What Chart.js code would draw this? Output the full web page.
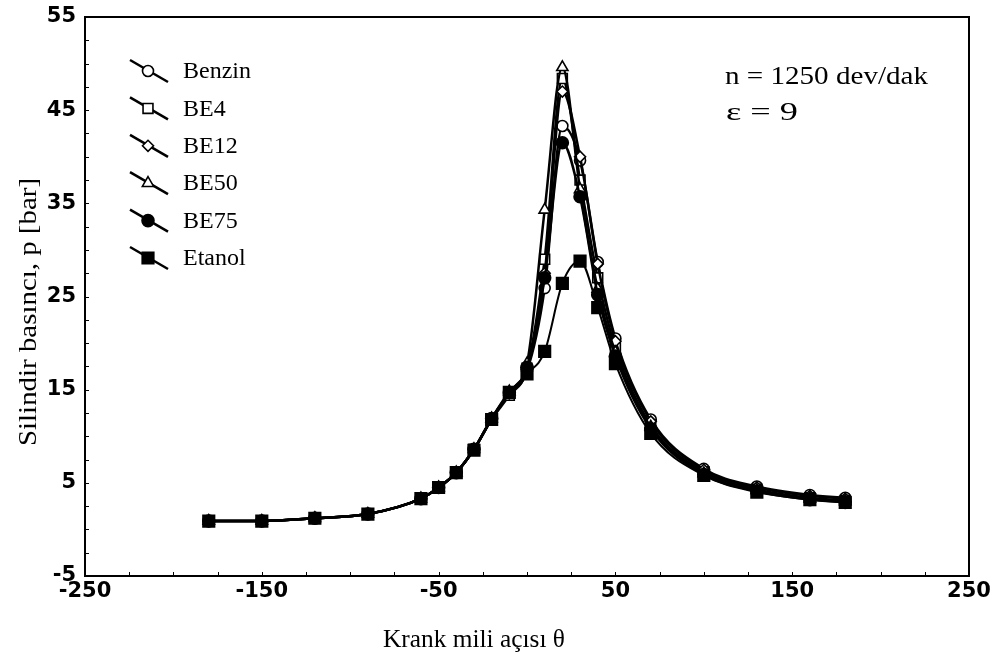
<!DOCTYPE html>
<html>
<head>
<meta charset="utf-8">
<script src="https://cdn.jsdelivr.net/npm/chart.js@4.4.1/dist/chart.umd.min.js"></script>
<style>
html,body{margin:0;padding:0;background:#fff;}
#wrap{width:995px;height:664px;position:relative;}
</style>
</head>
<body>
<div id="wrap"><canvas id="chart" width="995" height="664"></canvas></div>
<script>
// crank angle (deg)
var angles = [-180, -150, -120, -90, -60, -50, -40, -30, -20, -10, 0, 10, 20, 30, 40, 50, 70, 100, 130, 160, 180];

// cylinder pressure (bar)
var benzin = [0.9, 0.9, 1.2, 1.65, 3.3, 4.5, 6.1, 8.6, 11.9, 14.6, 17.0, 25.9, 43.3, 39.6, 28.7, 20.5, 11.8, 6.5, 4.6, 3.7, 3.4];
var be4    = [0.9, 0.9, 1.2, 1.65, 3.3, 4.5, 6.1, 8.6, 11.8, 14.4, 17.3, 29.0, 48.4, 37.5, 27.0, 19.5, 11.2, 6.2, 4.3, 3.4, 3.1];
var be12   = [0.9, 0.9, 1.2, 1.65, 3.3, 4.5, 6.1, 8.6, 11.9, 14.6, 17.2, 27.5, 47.0, 40.0, 28.5, 20.2, 11.6, 6.4, 4.5, 3.6, 3.3];
var be50   = [0.9, 0.9, 1.2, 1.65, 3.3, 4.5, 6.1, 8.6, 11.9, 14.8, 17.8, 34.3, 49.6, 36.5, 25.8, 19.0, 11.0, 6.0, 4.2, 3.3, 3.0];
var be75   = [0.9, 0.9, 1.2, 1.65, 3.3, 4.5, 6.1, 8.6, 11.9, 14.7, 17.4, 27.0, 41.5, 35.7, 25.2, 18.6, 10.8, 5.9, 4.1, 3.2, 2.9];
var etanol = [0.9, 0.9, 1.2, 1.65, 3.3, 4.5, 6.1, 8.5, 11.8, 14.7, 16.7, 19.1, 26.4, 28.8, 23.8, 17.8, 10.3, 5.8, 4.0, 3.2, 2.9];

var seriesNames = ['Benzin', 'BE4', 'BE12', 'BE50', 'BE75', 'Etanol'];
var xTickValues = [-250, -150, -50, 50, 150, 250];
var yTickValues = [-5, 5, 15, 25, 35, 45, 55];
var xTitle = 'Krank mili açısı θ';
var yTitle = 'Silindir basıncı, p [bar]';
var notes = ['n = 1250 dev/dak', 'ε = 9'];

function pts(ys){
    return ys.map(function(y, i){ return {x: angles[i], y: y}; });
}

var styles = [
    {style:'circle',   r:5.5, fill:'#fff', order:5},
    {style:'rect',     r:7,   fill:'#fff', order:4},
    {style:'rectRot',  r:5.5, fill:'#fff', order:3},
    {style:'triangle', r:6.5, fill:'#fff', order:2},
    {style:'circle',   r:6,   fill:'#000', order:1},
    {style:'rect',     r:8.2, fill:'#000', order:0}
];
var values = [benzin, be4, be12, be50, be75, etanol];

var datasets = seriesNames.map(function(name, i){
    var s = styles[i];
    return {
        label: name,
        data: pts(values[i]),
        borderColor: '#000',
        borderWidth: i === 5 ? 2 : 2.5,
        backgroundColor: s.fill,
        pointStyle: s.style,
        pointRadius: s.r,
        pointBackgroundColor: s.fill,
        pointBorderColor: '#000',
        pointBorderWidth: 1.6,
        cubicInterpolationMode: 'monotone',
        order: s.order,
        fill: false
    };
});

var SERIF = '"Liberation Serif", "Times New Roman", serif';

// text squeezed/stretched to a given width
function fitText(ctx, txt, x, y, w){
    var m = ctx.measureText(txt).width;
    ctx.save();
    ctx.translate(x, y);
    ctx.scale(w / m, 1);
    ctx.fillText(txt, 0, 0);
    ctx.restore();
}

var frame = {
    id: 'frame',
    afterDraw: function(chart){
        var ctx = chart.ctx, a = chart.chartArea;
        var xs = chart.scales.x, ys = chart.scales.y;
        ctx.save();
        ctx.strokeStyle = '#000';
        ctx.fillStyle = '#000';
        ctx.lineWidth = 2;
        ctx.strokeRect(a.left, a.top, a.right - a.left, a.bottom - a.top);
        // small inner ticks
        ctx.lineWidth = 1;
        ctx.beginPath();
        for (var v = -250; v <= 250; v += 25) {
            var px = Math.round(xs.getPixelForValue(v)) + 0.5;
            ctx.moveTo(px, a.bottom); ctx.lineTo(px, a.bottom - 4);
        }
        for (var w = -5; w <= 55; w += 2.5) {
            var py = Math.round(ys.getPixelForValue(w)) + 0.5;
            ctx.moveTo(a.left, py); ctx.lineTo(a.left + 4, py);
        }
        ctx.stroke();

        // legend
        ctx.font = '24px ' + SERIF;
        ctx.textBaseline = 'middle';
        ctx.textAlign = 'left';
        for (var i = 0; i < seriesNames.length; i++) {
            var y = 72 + i * 37.4;
            var ds = chart.data.datasets[i];
            ctx.lineWidth = 2.5;
            ctx.beginPath();
            ctx.moveTo(130, y - 12); ctx.lineTo(168, y + 10);
            ctx.stroke();
            ctx.fillStyle = ds.pointBackgroundColor;
            ctx.lineWidth = 1.6;
            Chart.helpers.drawPoint(ctx, {pointStyle: ds.pointStyle, radius: ds.pointRadius, rotation: 0, borderWidth: 1.6}, 148, y - 1);
            ctx.fillStyle = '#000';
            ctx.fillText(ds.label, 183, y);
        }
        // annotations
        ctx.font = '26px ' + SERIF;
        fitText(ctx, notes[0], 725, 77, 203);
        fitText(ctx, notes[1], 726, 113, 72);

        // axis titles
        ctx.font = '25px ' + SERIF;
        fitText(ctx, xTitle, 383, 640, 182);
        ctx.font = '26px ' + SERIF;
        ctx.save();
        ctx.translate(29, 446);
        ctx.rotate(-Math.PI / 2);
        fitText(ctx, yTitle, 0, 0, 268);
        ctx.restore();
        ctx.restore();
    }
};

new Chart(document.getElementById('chart'), {
    type: 'line',
    data: {datasets: datasets},
    options: {
        responsive: false,
        animation: false,
        events: [],
        layout: {padding: {left: 0, right: 26, top: 17, bottom: 0}},
        plugins: {legend: {display: false}, tooltip: {enabled: false}},
        scales: {
            x: {
                type: 'linear',
                min: -250, max: 250,
                afterBuildTicks: function(s){ s.ticks = xTickValues.map(function(v){ return {value: v}; }); },
                afterFit: function(s){ s.height = 88; s.paddingLeft = 0; s.paddingRight = 0; },
                grid: {display: false, drawTicks: false},
                border: {display: false},
                ticks: {color: '#000', padding: 3, maxRotation: 0,
                        font: {family: '"DejaVu Sans", Arial, sans-serif', weight: 'bold', size: 21}}
            },
            y: {
                type: 'linear',
                min: -5, max: 55,
                afterBuildTicks: function(s){ s.ticks = yTickValues.map(function(v){ return {value: v}; }); },
                afterFit: function(s){ s.width = 85; s.paddingTop = 0; s.paddingBottom = 0; },
                grid: {display: false, drawTicks: false},
                border: {display: false},
                ticks: {color: '#000', padding: 9,
                        font: {family: '"DejaVu Sans", Arial, sans-serif', weight: 'bold', size: 21}}
            }
        }
    },
    plugins: [frame]
});
</script>
</body>
</html>
